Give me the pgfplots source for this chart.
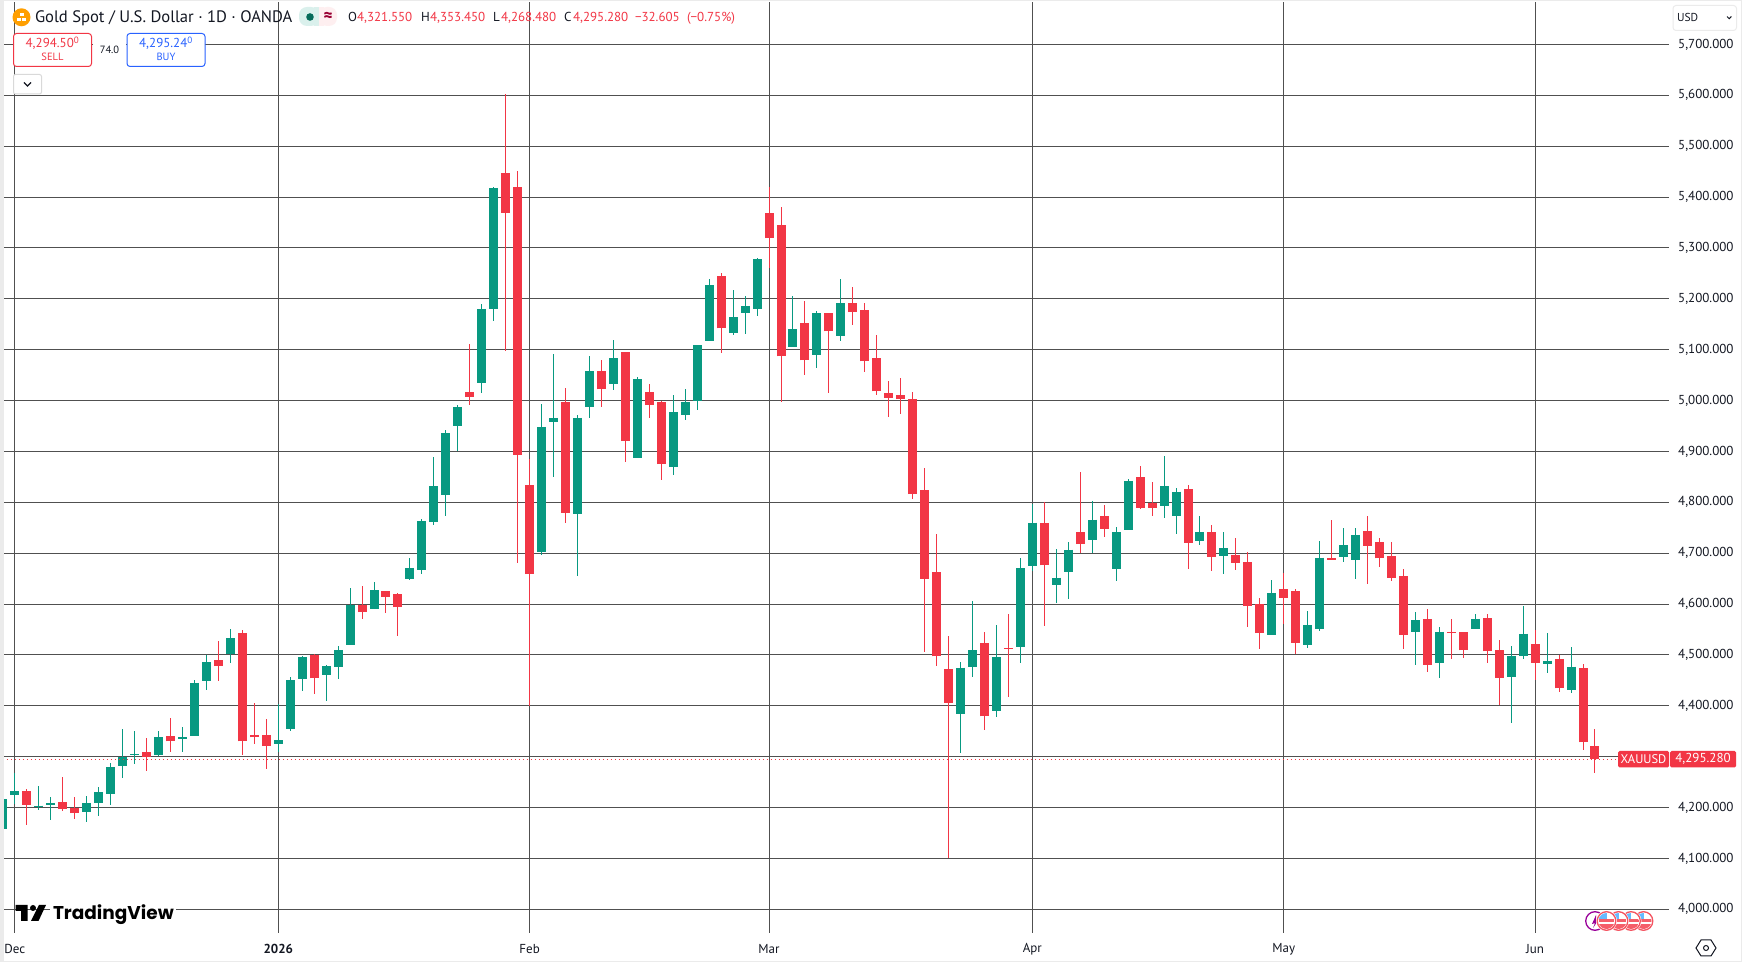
\documentclass[border=0pt]{standalone}
\usepackage{pgfplots}
\usepackage{pgfplotstable}
\usepackage{fontspec}
\pgfplotsset{compat=1.18}
\setmainfont{PT Sans}
\newfontfamily\tvfont{Poppins}
\definecolor{up}{HTML}{089981}
\definecolor{dn}{HTML}{F23645}
\definecolor{gridc}{HTML}{505050}
\definecolor{txt}{HTML}{131722}
\definecolor{buyc}{HTML}{2962FF}
\definecolor{strip}{HTML}{EBEBEB}
\pgfplotstableread{
i O H L C
-1 4157 4218 4155 4216
0 4224 4267 4207 4232
2 4203 4242 4195 4204
3 4205 4220 4175 4209
6 4191 4222 4171 4209
7 4209 4240 4183 4230
8 4226 4287 4205 4279
9 4281 4354 4258 4300
10 4304 4350 4285 4305
12 4303 4350 4302 4338
14 4334 4358 4309 4338
15 4340 4450 4340 4445
16 4449 4499 4431 4486
18 4502 4551 4484 4533
22 4325 4403 4309 4332
23 4354 4456 4350 4450
24 4452 4498 4429 4496
26 4460 4480 4409 4478
27 4476 4517 4452 4510
28 4519 4631 4519 4599
30 4590 4643 4590 4627
33 4649 4690 4647 4671
34 4667 4767 4659 4763
35 4761 4889 4755 4832
36 4814 4942 4773 4936
37 4950 4991 4900 4987
39 5034 5190 5014 5180
40 5180 5420 5156 5418
44 4702 4993 4696 4948
45 4958 5091 4850 4966
47 4777 4971 4655 4966
48 4987 5087 4965 5058
50 5032 5119 5020 5083
52 4887 5046 4887 5042
55 4869 5010 4853 4977
56 4971 5022 4961 4997
57 4999 5110 4981 5109
58 5117 5239 5117 5227
60 5132 5217 5129 5164
61 5172 5205 5130 5186
62 5180 5280 5166 5278
65 5105 5205 5105 5140
67 5089 5176 5064 5172
69 5127 5239 5117 5191
79 4383 4487 4308 4475
80 4477 4605 4457 4509
82 4389 4558 4377 4495
84 4516 4690 4485 4670
85 4674 4796 4664 4760
87 4638 4709 4603 4652
88 4662 4721 4609 4707
90 4726 4803 4700 4766
92 4669 4752 4646 4742
93 4746 4846 4746 4842
96 4793 4891 4770 4832
97 4773 4829 4738 4821
99 4724 4773 4716 4742
101 4695 4742 4659 4710
105 4539 4648 4539 4622
108 4520 4587 4514 4559
109 4551 4724 4547 4691
111 4693 4750 4683 4716
112 4687 4750 4650 4736
117 4546 4585 4481 4568
119 4485 4554 4455 4546
122 4550 4581 4550 4571
125 4457 4518 4367 4497
126 4497 4597 4491 4542
128 4483 4544 4465 4489
130 4432 4516 4426 4477
}\upT
\pgfplotstableread{
i O H L C
1 4232 4236 4165 4205
4 4210 4260 4193 4197
5 4200 4220 4177 4189
11 4309 4336 4271 4300
13 4340 4376 4309 4330
17 4490 4527 4449 4478
19 4543 4549 4303 4330
20 4342 4405 4325 4338
21 4342 4374 4275 4321
25 4499 4502 4423 4454
29 4599 4635 4570 4584
31 4626 4626 4582 4614
32 4620 4622 4537 4594
38 5016 5111 4991 5007
41 5447 5603 5097 5369
42 5420 5451 4680 4893
43 4834 4885 4400 4659
46 4997 5025 4759 4779
49 5058 5079 4987 5022
51 5095 5096 4879 4920
53 5016 5032 4965 4991
54 4997 4999 4843 4875
59 5245 5250 5093 5142
63 5369 5420 5260 5319
64 5345 5380 4997 5087
66 5152 5195 5050 5079
68 5172 5173 5014 5136
70 5191 5223 5148 5174
71 5178 5191 5056 5077
72 5083 5129 5010 5018
73 5014 5038 4967 5005
74 5010 5044 4973 5003
75 5003 5016 4806 4816
76 4824 4867 4505 4650
77 4662 4737 4479 4497
78 4473 4538 4100 4406
81 4524 4546 4353 4379
83 4514 4581 4418 4512
86 4760 4801 4556 4676
89 4742 4860 4700 4718
91 4773 4795 4732 4748
94 4850 4872 4787 4789
95 4799 4840 4773 4789
98 4827 4834 4669 4720
100 4742 4756 4665 4693
102 4697 4730 4667 4681
103 4683 4703 4555 4596
104 4600 4612 4512 4543
106 4630 4661 4561 4612
107 4626 4630 4502 4524
110 4691 4766 4687 4687
113 4743 4774 4640 4715
114 4721 4729 4672 4690
115 4695 4721 4646 4652
116 4656 4668 4512 4540
118 4571 4591 4467 4481
120 4546 4571 4491 4544
121 4546 4546 4493 4509
123 4573 4581 4485 4507
124 4509 4530 4402 4455
127 4522 4548 4450 4485
129 4491 4499 4428 4434
131 4475 4483 4314 4328
132 4321.55 4353.45 4268.48 4295.28
}\dnT
\newcommand{\flagicon}[2]{%
  \begin{scope}
    \fill[white] (#1,#2) circle (10.5);
    \clip (#1,#2) circle (8);
    \fill[white] (#1-8,#2-8) rectangle (#1+8,#2+8);
    \fill[dn!80] (#1-8,#2-1.5) rectangle (#1+8,#2+1);
    \fill[dn!80] (#1-8,#2+3.5) rectangle (#1+8,#2+8);
    \fill[blue!45!cyan!60] (#1-8,#2-8) rectangle (#1,#2-1.5);
  \end{scope}
  \draw[dn!85,line width=1.3] (#1,#2) circle (9.3);
}
\begin{document}
\begin{tikzpicture}[x=1pt,y=1pt]
\useasboundingbox (0,0) rectangle (1742,971);
\fill[white] (0,0) rectangle (1742,971);
\fill[strip] (0,9.5) rectangle (4,971);
\fill[strip] (0,969.5) rectangle (1742,971);
\fill[strip] (0,9) rectangle (1742,10);
\fill[strip] (1741,9.5) rectangle (1742,971);
\begin{axis}[
  at={(4pt,38pt)}, anchor=south west,
  scale only axis, width=1665pt, height=931pt,
  xmin=-0.911, xmax=138.183, ymin=3953.4, ymax=5783.4,
  axis line style={draw=none},
  major tick length=0pt,
  grid=major,
  major grid style={draw=gridc,line width=1pt},
  xtick={0,22,43,63,85,106,127},
  xticklabels={Dec,{\bfseries 2026},Feb,Mar,Apr,May,Jun},
  ytick={4000,4100,4200,4400,4500,4600,4700,4800,4900,5000,5100,5200,5300,5400,5500,5600,5700},
  extra y ticks={4300},
  extra y tick labels={},
  extra tick style={grid=major},
  yticklabel pos=right,
  scaled y ticks=false,
  /pgf/number format/.cd, fixed, fixed zerofill, precision=3, 1000 sep={,}, assume math mode=true,
  /pgfplots/.cd,
  every tick label/.append style={font=\fontsize{13}{15}\selectfont, text=txt},
  yticklabel style={anchor=west, inner sep=0pt, xshift=9pt},
  xticklabel style={anchor=center, inner sep=0pt, yshift=-16pt},
  clip=true,
]
\addplot[draw=none, mark=none, forget plot, error bars/.cd, y dir=both, y explicit, error mark=none, error bar style={draw=up, line width=1pt}]
  table[x=i, y=C, y error plus expr=\thisrow{H}-\thisrow{C}, y error minus expr=\thisrow{C}-\thisrow{L}] {\upT};
\addplot[draw=none, mark=none, forget plot, error bars/.cd, y dir=both, y explicit, error mark=none, error bar style={draw=dn, line width=1pt}]
  table[x=i, y=C, y error plus expr=\thisrow{H}-\thisrow{C}, y error minus expr=\thisrow{C}-\thisrow{L}] {\dnT};
\addplot[draw=none, mark=none, forget plot, error bars/.cd, y dir=minus, y explicit, error mark=none, error bar style={draw=up, line width=9pt}]
  table[x=i, y=C, y error minus expr=\thisrow{C}-\thisrow{O}] {\upT};
\addplot[draw=none, mark=none, forget plot, error bars/.cd, y dir=plus, y explicit, error mark=none, error bar style={draw=dn, line width=9pt}]
  table[x=i, y=C, y error plus expr=\thisrow{O}-\thisrow{C}] {\dnT};
\addplot[forget plot, draw=dn, line width=1pt, dash pattern=on 1pt off 3pt] coordinates {(-1,4295.28) (138.183,4295.28)};
\end{axis}
\begin{scope}[shift={(0,971)}, y=-1pt, x=1pt]
  \tikzset{every node/.style={inner sep=0pt, outer sep=0pt}}
  % header
  \fill[orange!75!yellow] (21.5,17.3) circle (9);
  \fill[white] (17,18) rectangle (21,21);
  \fill[white] (22,18) rectangle (26,21);
  \fill[white] (19.5,13.5) rectangle (23.5,16.5);
  \node[anchor=base west,text=txt,font=\fontsize{16.6}{18}\selectfont] at (35,23) {Gold Spot / U.S. Dollar · 1D · OANDA};
  \fill[up!15,rounded corners=8] (299,7) rectangle (319,26);
  \fill[dn!8,rounded corners=8] (319,7) rectangle (337,26);
  \fill[up!15] (314,7) rectangle (319,26);
  \fill[dn!8] (319,7) rectangle (324,26);
  \fill[up!70!black] (310,17) circle (3.8);
  \node[text=purple!80!black,font=\fontsize{17}{18}\selectfont\bfseries] at (328,16.5) {≈};
  \def\ohlc{\fontsize{13}{15}\selectfont}
  \node[anchor=base west,text=txt,font=\ohlc] at (348,22) {O};
  \node[anchor=base west,text=dn,font=\ohlc] at (357,22) {4,321.550};
  \node[anchor=base west,text=txt,font=\ohlc] at (421,22) {H};
  \node[anchor=base west,text=dn,font=\ohlc] at (430,22) {4,353.450};
  \node[anchor=base west,text=txt,font=\ohlc] at (493,22) {L};
  \node[anchor=base west,text=dn,font=\ohlc] at (501,22) {4,268.480};
  \node[anchor=base west,text=txt,font=\ohlc] at (564,22) {C};
  \node[anchor=base west,text=dn,font=\ohlc] at (573,22) {4,295.280};
  \node[anchor=base west,text=dn,font=\ohlc] at (635,22) {−32.605};
  \node[anchor=base west,text=dn,font=\ohlc] at (687,22) {(−0.75\%)};
  % sell / buy
  \draw[dn,fill=white,rounded corners=3,line width=1pt] (13.5,33.5) rectangle (91.5,66.5);
  \draw[buyc,fill=white,rounded corners=3,line width=1pt] (127,33.5) rectangle (205,66.5);
  \fill[white] (93,40) rectangle (126,55);
  \node[text=txt,font=\fontsize{10.5}{12}\selectfont] at (109.5,50) {74.0};
  \node[text=dn,font=\fontsize{13}{15}\selectfont] at (52.5,43) {4,294.50\textsuperscript{0}};
  \node[text=dn,font=\fontsize{10.5}{12}\selectfont] at (52.5,57) {SELL};
  \node[text=buyc,font=\fontsize{13}{15}\selectfont] at (166,43) {4,295.24\textsuperscript{0}};
  \node[text=buyc,font=\fontsize{10.5}{12}\selectfont] at (166,57) {BUY};
  \draw[black!15,fill=white,rounded corners=2,line width=1pt] (13.5,74.5) rectangle (41.5,94);
  \draw[txt,line width=1.1pt] (24,82.5) -- (27.5,86) -- (31,82.5);
  % USD
  \draw[black!8,fill=white,rounded corners=3,line width=1pt] (1673,5.5) rectangle (1736.5,30.5);
  \node[anchor=base west,text=txt,font=\fontsize{11.5}{13}\selectfont] at (1677,22) {USD};
  \draw[txt,line width=1pt] (1727,16.5) -- (1729.2,18.7) -- (1731.4,16.5);
  % price tag
  \fill[dn,rounded corners=1.5] (1618,751) rectangle (1669,767.5);
  \fill[dn,rounded corners=1.5] (1670,751) rectangle (1736,767.5);
  \node[text=white,font=\fontsize{12.5}{14}\selectfont] at (1643.5,759) {XAUUSD};
  \node[text=white,font=\fontsize{13}{15}\selectfont] at (1703,759) {4,295.280};
  % logo
  \fill[white] (50,904) rectangle (176,926);
  \fill[black] (15.7,905) rectangle (27.5,911) (21,905) rectangle (27.5,921);
  \fill[black] (33,908) circle (3);
  \fill[black] (39,905) -- (46,905) -- (38.5,921) -- (31,921) -- cycle;
  \node[anchor=base west,text=black,font=\tvfont\bfseries\fontsize{18.5}{24}\selectfont] at (53,919.5) {TradingView};
  % event icons
  \draw[violet!80!magenta,fill=white,line width=1.3] (1595,921) circle (9.3);
  \fill[violet!80!magenta] (1596,915) -- (1592,924) -- (1595,923) -- (1593,928) -- (1599,919) -- (1596,920) -- cycle;
  \flagicon{1643.5}{921}
  \flagicon{1631}{921}
  \flagicon{1618.5}{921}
  \flagicon{1606.5}{921}
  % settings
  \draw[txt,line width=1pt] (1696,948) -- (1701,940) -- (1711,940) -- (1716,948) -- (1711,956) -- (1701,956) -- cycle;
  \draw[txt,line width=1pt] (1706,948) circle (2.5);
\end{scope}
\end{tikzpicture}
\end{document}
